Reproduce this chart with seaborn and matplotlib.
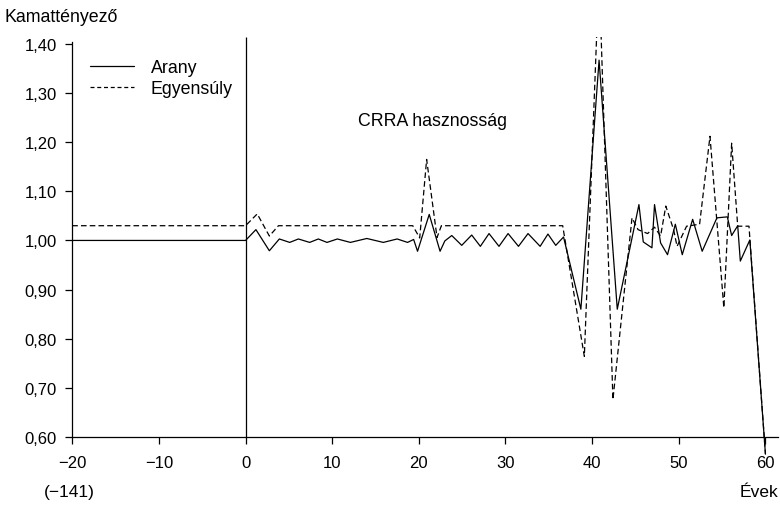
import numpy as np
import pandas as pd
import matplotlib
matplotlib.use("Agg")
import matplotlib.pyplot as plt
import seaborn as sns

# ---- data ----
arany_x = [-20, 0, 1.2, 2.75, 3.9, 5.1, 6.1, 7.4, 8.4, 9.4, 10.6, 12.1, 14.0, 15.9,
           17.5, 18.7, 19.4, 19.85, 21.2, 22.45, 23.0, 23.8, 24.95, 26.1, 27.1, 28.1,
           29.25, 30.3, 31.5, 32.6, 34.0, 34.9, 35.8, 36.7, 38.7, 40.8, 42.9, 45.4,
           45.9, 46.9, 47.2, 47.9, 48.7, 49.6, 50.4, 51.6, 52.7, 54.4, 55.6, 56.1,
           56.8, 57.1, 58.2, 60.0]
arany_y = [1.00, 1.00, 1.022, 0.979, 1.003, 0.996, 1.003, 0.996, 1.003, 0.996, 1.003,
           0.996, 1.004, 0.996, 1.003, 0.996, 1.002, 0.978, 1.053, 0.978, 0.999, 1.010,
           0.990, 1.011, 0.988, 1.014, 0.988, 1.014, 0.988, 1.014, 0.988, 1.013, 0.990,
           1.007, 0.860, 1.367, 0.860, 1.073, 0.997, 0.985, 1.073, 0.995, 0.971, 1.033,
           0.971, 1.043, 0.978, 1.046, 1.048, 1.010, 1.030, 0.958, 1.001, 0.565]

egy_x = [-20, 0, 1.35, 2.75, 3.8, 19.3, 20.1, 20.9, 22.1, 22.6, 36.6, 39.1, 40.8,
         42.4, 44.6, 45.3, 46.4, 47.2, 47.9, 48.5, 49.4, 49.8, 50.9, 52.4, 53.6, 55.2,
         56.1, 56.8, 58.1, 60.0]
egy_y = [1.03, 1.03, 1.054, 1.009, 1.03, 1.03, 1.005, 1.165, 1.006, 1.03, 1.03, 0.764,
         1.545, 0.676, 1.046, 1.022, 1.014, 1.027, 1.009, 1.07, 1.022, 0.988, 1.029,
         1.033, 1.212, 0.863, 1.198, 1.029, 1.029, 0.565]

series_names = ["Arany", "Egyensúly"]
x_ticks = [-20, -10, 0, 10, 20, 30, 40, 50, 60]
x_tick_labels = ["\u221220", "\u221210", "0", "10", "20", "30", "40", "50", "60"]
y_ticks = [0.60, 0.70, 0.80, 0.90, 1.00, 1.10, 1.20, 1.30, 1.40]
y_tick_labels = ["0,60", "0,70", "0,80", "0,90", "1,00", "1,10", "1,20", "1,30", "1,40"]

df_a = pd.DataFrame({"x": arany_x, "y": arany_y})
df_e = pd.DataFrame({"x": egy_x, "y": egy_y})

sns.set_theme(style="white")
plt.rcParams["font.family"] = ["Liberation Sans", "DejaVu Sans"]
plt.rcParams["text.color"] = "black"

fig = plt.figure(figsize=(7.8, 5.06), dpi=100)
ax = fig.add_axes([0.0926, 0.086, 0.9054, 0.8397])

sns.lineplot(data=df_a, x="x", y="y", ax=ax, color="black", lw=0.9,
             estimator=None, sort=False, label=series_names[0])
sns.lineplot(data=df_e, x="x", y="y", ax=ax, color="black", lw=0.9,
             estimator=None, sort=False, label=series_names[1], dashes=False)
ax.lines[1].set_dashes((4.5, 2.5))

ax.set_xlim(-20, 61.5)
ax.set_ylim(0.55, 1.415)
ax.vlines(0, 0.6, 1.415, color="black", lw=0.9)

for s in ["top", "right"]:
    ax.spines[s].set_visible(False)
ax.spines["bottom"].set_position(("data", 0.6))
ax.spines["left"].set_bounds(0.6, 1.405)
for s in ["left", "bottom"]:
    ax.spines[s].set_color("black")
    ax.spines[s].set_linewidth(0.9)

ax.set_xticks(x_ticks)
ax.set_xticklabels(x_tick_labels)
ax.set_yticks(y_ticks)
ax.set_yticklabels(y_tick_labels)
ax.tick_params(axis="both", which="major", direction="out", length=5, width=0.9,
               color="black", labelsize=12, labelcolor="black", left=True, bottom=True)
ax.tick_params(axis="x", pad=8)
ax.tick_params(axis="y", pad=6)
ax.set_xlabel("")
ax.set_ylabel("")

ax.text(21.6, 1.245, "CRRA hasznosság", ha="center", va="center", fontsize=12.8,
        color="black")

leg = ax.legend(loc="upper left", bbox_to_anchor=(0.116, 0.881),
                bbox_transform=fig.transFigure, frameon=False, fontsize=12.8,
                handlelength=2.45, handletextpad=0.95, labelspacing=0.2,
                borderpad=0, borderaxespad=0)
for h in leg.get_lines():
    h.set_linewidth(0.9)
leg.get_lines()[1].set_dashes((3.2, 2.2))
for t in leg.get_texts():
    t.set_color("black")

fig.text(5 / 780, 1 - 17 / 506, "Kamattényező", ha="left", va="center",
         fontsize=12.8, color="black")
fig.text(1 - 2 / 780, 1 - 493 / 506, "Évek", ha="right", va="center",
         fontsize=12.5, color="black")
fig.text(69 / 780, 1 - 493 / 506, "(\u2212141)", ha="center", va="center",
         fontsize=12.5, color="black")

fig.savefig("out.png", dpi=100)
